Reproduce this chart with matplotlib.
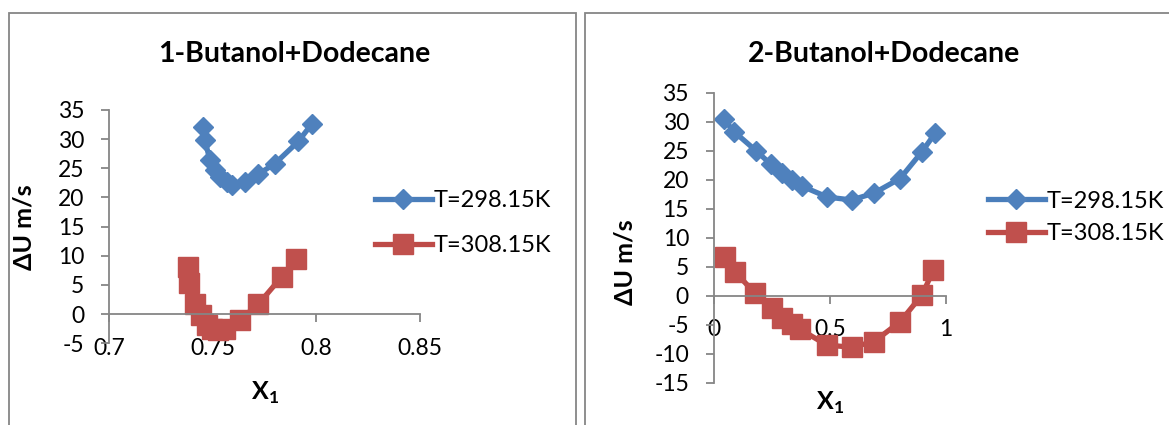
import matplotlib
matplotlib.use("Agg")
import matplotlib.pyplot as plt
from matplotlib.patches import Rectangle

plt.rcParams['font.family'] = ['Lato', 'DejaVu Sans']
plt.rcParams['axes.unicode_minus'] = False
plt.rcParams['mathtext.fontset'] = 'custom'
plt.rcParams['mathtext.rm'] = 'Lato'
plt.rcParams['mathtext.bf'] = 'Lato:bold'

# ---- data ----
titles = ["1-Butanol+Dodecane", "2-Butanol+Dodecane"]
series_labels = ["T=298.15K", "T=308.15K"]

x1_298 = [0.7451, 0.7462, 0.7486, 0.7511, 0.7535, 0.7567, 0.7591, 0.7656, 0.7720, 0.7800, 0.7913, 0.7978]
du1_298 = [32.1, 29.8, 26.4, 24.7, 23.5, 22.7, 22.1, 22.7, 24.0, 25.8, 29.6, 32.6]
x1_308 = [0.7379, 0.7387, 0.7414, 0.7442, 0.7470, 0.7497, 0.7525, 0.7560, 0.7631, 0.7720, 0.7833, 0.7902]
du1_308 = [8.1, 5.4, 1.8, -0.2, -1.8, -2.6, -2.7, -2.5, -1.0, 1.7, 6.4, 9.4]

x2_298 = [0.043, 0.086, 0.181, 0.244, 0.292, 0.335, 0.378, 0.489, 0.594, 0.690, 0.802, 0.896, 0.953]
du2_298 = [30.4, 28.3, 25.0, 22.7, 21.1, 19.9, 18.9, 17.0, 16.5, 17.7, 20.2, 24.8, 28.0]
x2_308 = [0.047, 0.091, 0.177, 0.249, 0.292, 0.335, 0.371, 0.486, 0.594, 0.690, 0.802, 0.896, 0.946]
du2_308 = [6.7, 4.1, 0.4, -2.2, -3.9, -4.8, -5.8, -8.5, -8.9, -7.9, -4.5, 0.1, 4.4]

xticks1 = [0.7, 0.75, 0.8, 0.85]
xticklabels1 = ["0.7", "0.75", "0.8", "0.85"]
yticks1 = [-5, 0, 5, 10, 15, 20, 25, 30, 35]
xticks2 = [0, 0.5, 1]
xticklabels2 = ["0", "0.5", "1"]
yticks2 = [-15, -10, -5, 0, 5, 10, 15, 20, 25, 30, 35]

BLUE_LINE, BLUE_MK = "#4A7EBB", "#4F81BD"
RED_LINE, RED_MK = "#BE4B48", "#C0504D"
GRAY = "#868686"
W, H = 1169, 425

fig = plt.figure(figsize=(W / 100, H / 100), dpi=100)

# chart frames
fig.patches.append(Rectangle((9 / W, -0.1), 567 / W, (H - 13) / H + 0.1, transform=fig.transFigure,
                             fill=False, edgecolor=GRAY, linewidth=1.3))
fig.patches.append(Rectangle((585 / W, -0.1), 0.5, (H - 13) / H + 0.1, transform=fig.transFigure,
                             fill=False, edgecolor=GRAY, linewidth=1.3))


def style_axes(ax, xlim, ylim, xticks, xticklabels, yticks):
    ax.set_xlim(*xlim)
    ax.set_ylim(*ylim)
    for s in ['top', 'right']:
        ax.spines[s].set_visible(False)
    ax.spines['bottom'].set_position(('data', 0))
    for s in ['left', 'bottom']:
        ax.spines[s].set_color(GRAY)
        ax.spines[s].set_linewidth(1.3)
    ax.set_xticks(xticks)
    ax.set_xticklabels(xticklabels)
    ax.set_yticks(yticks)
    ax.set_yticklabels([str(v) for v in yticks])
    ax.tick_params(axis='both', direction='out', length=5.5, width=1.3, color=GRAY,
                   labelsize=16.5, labelcolor='black')
    ax.tick_params(axis='y', pad=12.5)
    ax.tick_params(axis='x', pad=11.5)
    ax.patch.set_alpha(0)


def plot_series(ax, xa, ya, xb, yb):
    ax.plot(xa, ya, color=BLUE_LINE, linewidth=3.8, marker='D', markersize=10,
            markerfacecolor=BLUE_MK, markeredgecolor=BLUE_MK, label=series_labels[0], clip_on=False)
    ax.plot(xb, yb, color=RED_LINE, linewidth=3.8, marker='s', markersize=14,
            markerfacecolor=RED_MK, markeredgecolor=RED_MK, label=series_labels[1], clip_on=False)


# ---- left chart ----
ax1 = fig.add_axes([109.3 / W, 1 - 343.2 / H, 310.5 / W, 233.2 / H])
style_axes(ax1, (0.7, 0.85), (-5, 35), xticks1, xticklabels1, yticks1)
plot_series(ax1, x1_298, du1_298, x1_308, du1_308)
ax1.set_ylabel("ΔU m/s", fontsize=18, fontweight='bold')
ax1.yaxis.set_label_coords(-0.238, 0.498)
ax1.set_xlabel(r"$\mathbf{X}_\mathbf{1}$", fontsize=18)
ax1.xaxis.set_label_coords(0.5, -0.2436)
ax1.xaxis.label.set_va('baseline')
leg1 = ax1.legend(loc='center left', bbox_to_anchor=(375 / W, 1 - 223 / H), bbox_transform=fig.transFigure,
                  frameon=False, fontsize=17, handlelength=2.4, handletextpad=0.1,
                  labelspacing=1.0, borderpad=0, borderaxespad=0)

# ---- right chart ----
ax2 = fig.add_axes([714 / W, 1 - 382.7 / H, 232 / W, 290 / H])
style_axes(ax2, (0, 1), (-15, 35), xticks2, xticklabels2, yticks2)
plot_series(ax2, x2_298, du2_298, x2_308, du2_308)
ax2.set_ylabel("ΔU m/s", fontsize=18, fontweight='bold')
ax2.yaxis.set_label_coords(-0.333, 0.416)
ax2.set_xlabel(r"$\mathbf{X}_\mathbf{1}$", fontsize=18)
ax2.xaxis.set_label_coords(0.5, -0.0941)
ax2.xaxis.label.set_va('baseline')
leg2 = ax2.legend(loc='center left', bbox_to_anchor=(988 / W, 1 - 217.5 / H), bbox_transform=fig.transFigure,
                  frameon=False, fontsize=17, handlelength=2.4, handletextpad=0.1,
                  labelspacing=0.5, borderpad=0, borderaxespad=0)

# titles
fig.text(294 / W, 1 - 54 / H, titles[0], ha='center', va='center', fontsize=20.5, fontweight='bold')
fig.text(884 / W, 1 - 54 / H, titles[1], ha='center', va='center', fontsize=20.5, fontweight='bold')

fig.savefig("out.png", dpi=100)
